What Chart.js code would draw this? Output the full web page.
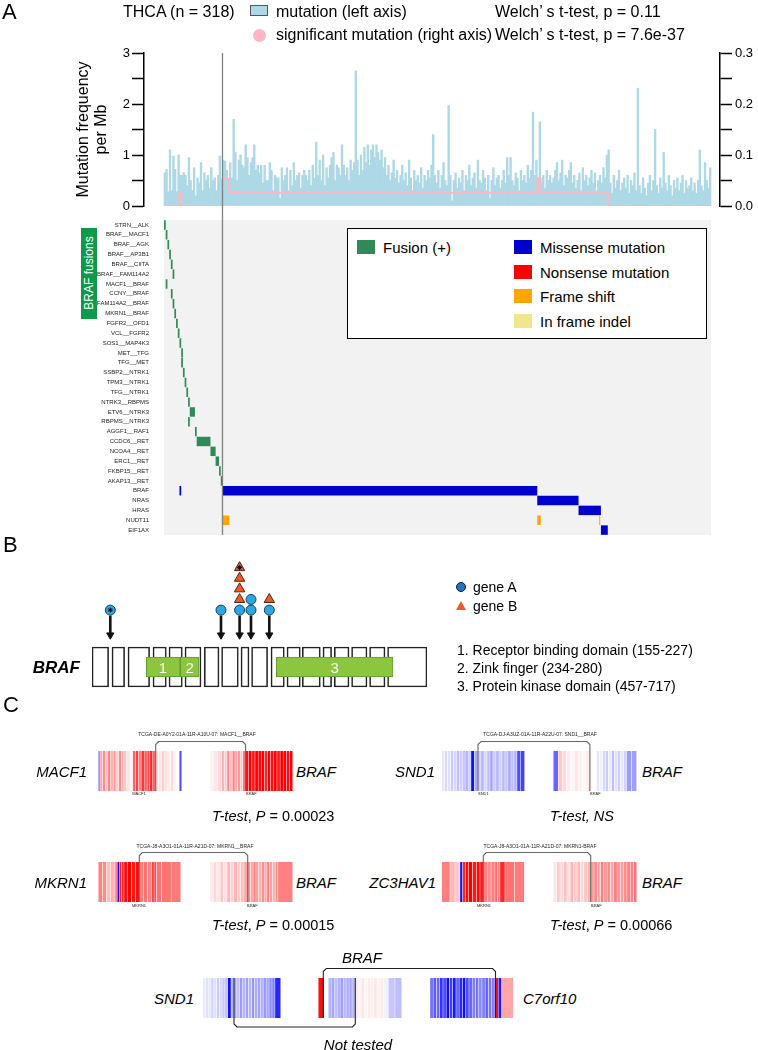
<!DOCTYPE html>
<html>
<head>
<meta charset="utf-8">
<script src="https://cdn.jsdelivr.net/npm/chart.js@4.4.0/dist/chart.umd.min.js"></script>
<style>
  body { margin: 0; width: 758px; height: 1050px; position: relative; overflow: hidden; background: #fff;
         font-family: "Liberation Sans", Arial, sans-serif; color: #000; }
  canvas { position: absolute; }
  .t { position: absolute; white-space: nowrap; line-height: 1; transform: translateY(-50%); }
  .tc { transform: translate(-50%, -50%); }
  .tr { transform: translate(-100%, -50%); }
  .i { font-style: italic; }
  .box { position: absolute; box-sizing: border-box; }
  .tiny { font-size: 5px; color: #222; }
</style>
</head>
<body>
<canvas id="rateChart" width="758" height="220" style="left:0px;top:0px"></canvas>
<canvas id="oncoChart" width="758" height="341" style="left:0px;top:207px"></canvas>
<canvas id="hitChart" width="758" height="100" style="left:0px;top:550px"></canvas>
<canvas id="exonChart" width="758" height="54" style="left:0px;top:640px"></canvas>
<canvas id="strip1L" width="195" height="72" style="left:98px;top:728px"></canvas>
<canvas id="strip1R" width="196" height="72" style="left:441px;top:728px"></canvas>
<canvas id="strip2L" width="195" height="72" style="left:98px;top:840px"></canvas>
<canvas id="strip2R" width="196" height="72" style="left:441px;top:840px"></canvas>
<canvas id="strip3" width="312" height="80" style="left:202px;top:955px"></canvas>

<!-- Panel A header -->
<div class="t" style="left:2px;top:12px;font-size:22px">A</div>
<div class="t" style="left:123px;top:12px;font-size:16px">THCA (n = 318)</div>
<div class="box" style="left:250px;top:5px;width:18px;height:11px;background:#add8e6;border:1px solid #555"></div>
<div class="t" style="left:276px;top:12px;font-size:16px">mutation (left axis)</div>
<div class="t" style="left:495px;top:12px;font-size:16px">Welch’ s t-test, p = 0.11</div>
<div class="box" style="left:252.5px;top:28.5px;width:13px;height:13px;border-radius:50%;background:#ffb6c1"></div>
<div class="t" style="left:276px;top:35px;font-size:16px">significant mutation (right axis)</div>
<div class="t" style="left:495px;top:35px;font-size:16px">Welch’ s t-test, p = 7.6e-37</div>

<div class="box" style="left:81px;top:228px;width:16px;height:91px;background:#0e9a48"></div>
<div class="t tc" style="left:89px;top:273px;font-size:12px;color:#fff;transform:translate(-50%,-50%) rotate(-90deg)">BRAF fusions</div>
<div id="oncoLegend" class="box" style="left:347px;top:228px;width:360px;height:111px;border:1px solid #000;background:#fff"></div>

<!-- Panel B -->
<div class="t" style="left:3px;top:545px;font-size:22px">B</div>
<div class="t tr" style="left:80px;top:667px;font-size:17px;font-weight:bold;font-style:italic">BRAF</div>
<div class="box" style="left:455.7px;top:582.3px;width:10px;height:10px;border-radius:50%;background:#1f74c4;border:1px solid #123"></div>
<div class="t" style="left:473px;top:587px;font-size:14px">gene A</div>
<div class="box" style="left:455.5px;top:601px;width:0;height:0;border-left:5.5px solid transparent;border-right:5.5px solid transparent;border-bottom:9px solid #f15a24"></div>
<div class="t" style="left:473px;top:606px;font-size:14px">gene B</div>
<div id="domainList"></div>
<div id="domainNums"></div>

<!-- Panel C -->
<div class="t" style="left:3px;top:705px;font-size:22px">C</div>

<div class="t tr i" style="left:87px;top:771px;font-size:15px">MACF1</div>
<div class="t i" style="left:296px;top:771px;font-size:15px">BRAF</div>
<div class="t tc tiny" style="left:197px;top:734px">TCGA-DE-A0Y2-01A-11R-A10U-07: MACF1__BRAF</div>
<div class="t tc tiny" style="left:139px;top:794px;font-size:4px">MACF1</div>
<div class="t tiny" style="left:246px;top:794px;font-size:4px">BRAF</div>
<div class="t" style="left:212px;top:816px;font-size:14.5px"><span class="i">T-test</span>, <span class="i">P</span> = 0.00023</div>

<div class="t tr i" style="left:435px;top:771px;font-size:15px">SND1</div>
<div class="t i" style="left:642px;top:771px;font-size:15px">BRAF</div>
<div class="t tc tiny" style="left:540px;top:734px">TCGA-DJ-A3UZ-01A-11R-A22U-07: SND1__BRAF</div>
<div class="t tiny" style="left:478px;top:794px;font-size:4px">SND1</div>
<div class="t tiny" style="left:590px;top:794px;font-size:4px">BRAF</div>
<div class="t" style="left:550px;top:816px;font-size:14.5px"><span class="i">T-test, NS</span></div>

<div class="t tr i" style="left:87px;top:882px;font-size:15px">MKRN1</div>
<div class="t i" style="left:296px;top:882px;font-size:15px">BRAF</div>
<div class="t tc tiny" style="left:195px;top:846px">TCGA-J8-A3O1-01A-11R-A21D-07: MKRN1__BRAF</div>
<div class="t tc tiny" style="left:139px;top:906px;font-size:4px">MKRN1</div>
<div class="t tiny" style="left:247px;top:906px;font-size:4px">BRAF</div>
<div class="t" style="left:212px;top:925px;font-size:14.5px"><span class="i">T-test</span>, <span class="i">P</span> = 0.00015</div>

<div class="t tr i" style="left:436px;top:882px;font-size:15px">ZC3HAV1</div>
<div class="t i" style="left:642px;top:882px;font-size:15px">BRAF</div>
<div class="t tc tiny" style="left:540px;top:846px">TCGA-J8-A3O1-01A-11R-A21D-07: MKRN1-BRAF</div>
<div class="t tiny" style="left:477px;top:906px;font-size:4px">MKRN1</div>
<div class="t tiny" style="left:591px;top:906px;font-size:4px">BRAF</div>
<div class="t" style="left:550px;top:925px;font-size:14.5px"><span class="i">T-test</span>, <span class="i">P</span> = 0.00066</div>

<div class="t i" style="left:342px;top:957px;font-size:15px">BRAF</div>
<div class="t tr i" style="left:194px;top:998px;font-size:15px">SND1</div>
<div class="t i" style="left:523px;top:998px;font-size:15px">C7orf10</div>
<div class="t tc i" style="left:358px;top:1044px;font-size:15px">Not tested</div>

<script>
// ---------- Panel A data ----------
const sampleCount = 318;
const fusionSampleCount = 34;

// mutations per Mb, one value per sample (left axis)
const mutationRate = [
  0.65,0.72,0.28,1.1,0.3,0.98,0.72,0.28,1.0,0.6,
  0.6,0.65,0.6,0.4,0.95,0.5,0.3,0.75,0.2,0.55,
  0.45,0.85,0.3,0.65,0.5,0.6,0.35,0.75,0.5,0.55,
  0.3,0.6,0.98,0.5,
  0.9,0.88,0.7,0.55,0.85,0.55,1.7,1.05,0.5,0.9,
  1.0,0.8,0.75,1.2,0.95,0.6,0.85,0.95,1.2,0.7,
  0.8,0.65,0.8,0.45,0.8,0.5,0.5,0.85,0.7,0.3,
  0.6,0.55,0.55,0.15,0.75,0.5,0.6,0.75,0.3,0.7,
  0.4,0.85,0.5,0.6,0.65,0.35,0.6,0.7,0.6,0.5,
  0.7,0.4,0.8,0.55,1.25,0.6,0.9,0.5,1.0,0.4,
  0.75,0.55,0.8,0.95,1.05,0.5,0.8,0.75,0.6,1.2,
  0.8,0.6,0.75,0.5,0.9,0.7,0.85,2.65,0.9,0.6,
  1.0,0.7,1.15,0.85,1.2,0.8,1.1,1.2,0.95,1.2,
  1.05,0.9,1.1,0.75,0.95,0.6,0.8,0.5,0.65,0.9,
  0.55,0.7,0.45,0.6,0.8,0.5,0.65,0.4,0.9,0.55,
  0.3,0.7,0.5,0.6,0.45,0.75,0.35,0.6,0.5,0.7,
  0.55,0.8,1.4,0.6,0.45,0.7,0.35,0.6,0.85,0.5,
  0.4,1.97,0.6,0.1,0.5,0.65,0.35,0.55,0.45,0.7,
  0.3,0.6,0.5,0.8,0.4,0.55,0.65,0.35,0.9,0.5,
  0.45,0.7,0.55,0.3,0.6,0.15,0.5,0.75,0.4,0.55,
  0.6,0.35,0.5,0.7,0.45,0.95,0.6,0.95,0.5,0.4,
  0.65,0.55,0.3,0.7,0.5,0.6,0.45,0.8,0.55,0.7,
  1.84,0.6,0.9,0.55,1.65,0.45,0.6,0.35,0.7,0.5,
  0.6,0.45,0.55,0.7,0.85,0.5,0.65,0.9,0.4,0.6,
  0.55,0.7,0.85,0.45,0.6,0.35,0.5,0.65,0.3,0.75,
  0.5,0.6,0.4,0.55,0.7,0.45,0.65,0.3,0.5,0.6,
  0.45,0.75,0.55,1.0,1.1,0.45,0.25,0.6,0.35,0.5,
  0.7,0.3,0.45,0.55,0.35,0.6,0.25,0.5,0.4,0.65,
  0.3,2.31,0.4,0.25,0.55,0.35,0.2,0.45,0.6,0.3,
  0.5,1.5,0.4,0.25,0.55,0.35,1.05,0.45,0.3,0.6,
  0.4,0.2,0.5,0.35,0.55,0.3,0.45,0.6,0.25,0.5,
  0.35,0.4,0.55,0.3,0.45,0.25,0.5,1.1,0.4,0.3,
  0.85,0.5,0.35,0.75
];

// significant mutation rate (right axis), as steps: value holds from start until next start
const sigStepStart = [0, 9, 10, 34, 38, 217, 219, 258, 318];
const sigStepValue = [0, 0.027, 0, 0.053, 0.026, 0.054, 0.026, 0, 0];

const fusionRows = ['STRN__ALK','BRAF__MACF1','BRAF__AGK','BRAF__AP3B1','BRAF__CIITA','BRAF__FAM114A2',
  'MACF1__BRAF','CCNY__BRAF','FAM114A2__BRAF','MKRN1__BRAF','FGFR2__OFD1','VCL__FGFR2','SOS1__MAP4K3',
  'MET__TFG','TFG__MET','SSBP2__NTRK1','TPM3__NTRK1','TFG__NTRK1','NTRK3__RBPMS','ETV6__NTRK3',
  'RBPMS__NTRK3','AGGF1__RAF1','CCDC6__RET','NCOA4__RET','ERC1__RET','FKBP15__RET','AKAP13__RET'];
const geneRows = ['BRAF','NRAS','HRAS','NUDT11','EIF1AX'];

// [row, first sample, number of samples]
const fusionEvents = [
  ['STRN__ALK',0,1],['BRAF__MACF1',1,1],['BRAF__AGK',2,1],['BRAF__AP3B1',3,1],['BRAF__CIITA',4,1],
  ['BRAF__FAM114A2',5,1],['MACF1__BRAF',1,1],['CCNY__BRAF',4,1],['FAM114A2__BRAF',5,1],['MKRN1__BRAF',6,1],
  ['FGFR2__OFD1',7,1],['VCL__FGFR2',8,1],['SOS1__MAP4K3',9,1],['MET__TFG',10,1],['TFG__MET',10,1],
  ['SSBP2__NTRK1',11,1],['TPM3__NTRK1',12,1],['TFG__NTRK1',13,1],['NTRK3__RBPMS',14,1],['ETV6__NTRK3',15,3],
  ['RBPMS__NTRK3',14,1],['AGGF1__RAF1',18,1],['CCDC6__RET',19,8],['NCOA4__RET',27,3],['ERC1__RET',30,2],
  ['FKBP15__RET',32,1],['AKAP13__RET',33,1]
];
// [row, first sample, number of samples, type]
const mutationEvents = [
  ['BRAF',9,1,'Missense mutation'],['BRAF',34,183,'Missense mutation'],['NRAS',217,24,'Missense mutation'],
  ['HRAS',241,13,'Missense mutation'],['EIF1AX',254,4,'Missense mutation'],
  ['NUDT11',34,4,'Frame shift'],['NUDT11',217,2,'Frame shift'],['NUDT11',253,0.6,'Frame shift']
];
const eventTypes = ['Fusion (+)','Missense mutation','Nonsense mutation','Frame shift','In frame indel'];
const eventColors = ['#2e8b57','#0000cd','#ff0000','#ffa500','#f0e68c'];

// ---------- Panel B data (exon diagram units) ----------
const exonStart = [0,20,36,61,77,93,112.3,129.6,149,159.6,179,195,210.3,231,242.3,259.6,277.6,295.6];
const exonEnd   = [16.6,32.6,57.6,74.3,90.3,109,127,146.3,157,175.6,192.3,208.3,228.3,239.6,257,275,293,335];
const domainStart = [54.3,88.3,184.3];
const domainEnd   = [87.6,107,301];
const domainNames = ['Receptor binding domain (155-227)','Zink finger (234-280)','Protein kinase domain (457-717)'];
const hitPos    = [18.3,129,147.6,159,177.3];
const geneAHits = [1,1,1,2,1];
const geneBHits = [0,0,4,0,1];
const starMarks = [[0,0],[2,4]];   // [hit index, stack level]

// ---------- Panel C data (exon widths and expression, -1 blue .. 1 red) ----------
const macf1Widths = [1.7,2.6,2.7,2.6,2.8,2.6,2.7,2.6,2.7,2.7,2.7,4,2,2.9,2.9,2.8,2.9,2.9,2.8,2.9,2.9,3,3,3,3,3,3,3,2.6,2.4];
const macf1Expr = [-0.55,0.35,0.45,0.25,0.5,0.3,0.4,0.2,0.45,0.3,0.25,0.1,0.03,0.6,0.75,0.5,0.8,0.65,0.7,0.85,0.6,0.15,0.1,0.2,0.12,0.08,0.15,0.05,0,-0.7];
const brafAWidths = [3.9,3.9,3.9,2.7,2.6,2.7,2.6,2.7,2.6,2.7,2.6,2.7,3.14,3.14,3.14,3.14,3.14,3.14,3.14,3.14,3.14,3.14,3.14,3.14,3.14,3.14,3.14];
const brafAExpr = [0.05,0.1,0.15,0.3,0.2,0.45,0.25,0.5,0.35,0.4,0.2,0.55,0.95,1,0.9,1,0.95,1,0.85,1,0.95,1,0.9,1,1,0.95,1];
const snd1AWidths = [2.9,2.9,3,2.9,3,2.9,3,2.9,3,2.8,3.4,3.6,3,3,3,3,3,3,3,3,3,3,3,3,3,3.8,3.8];
const snd1AExpr = [-0.1,-0.15,-0.12,-0.2,-0.15,-0.25,-0.18,-0.22,-0.3,-0.2,-0.95,-0.35,-0.2,-0.3,-0.15,-0.25,-0.35,-0.2,-0.3,-0.18,-0.28,-0.22,-0.35,-0.25,-0.3,-0.7,-0.75];
const brafBWidths = [5,4.2,4.1,3.9,3.9,3.9,3.9,3.9,3.8,3.3,3.3,3,3,3,3,3,3,3,3,3,3,5,5.1];
const brafBExpr = [-0.6,0.22,0.15,0.08,0.04,0.1,0.06,0.03,0.08,0.02,0,-0.1,-0.05,-0.15,-0.2,-0.08,-0.25,-0.12,-0.2,-0.1,-0.18,-0.4,-0.38];
const mkrn1Widths = [4.2,4.1,4.2,4.2,2.3,2,2.4,2.3,3.8,3.8,3.9,3.8,4.1,4.1,4.1,2.5,2.5,5,9.5,9.6];
const mkrn1Expr = [0.5,0.45,0.25,0.3,0.5,-0.95,0.9,0.85,0.95,1,0.9,0.95,0.5,0.55,0.5,0.75,0.7,0.55,0.55,0.52];
const brafCWidths = [3.4,3.4,3.4,3.4,3.4,3.4,3.4,3.4,3.4,3.4,3.7,2.75,2.75,2.75,2.75,2.75,2.75,2.75,2.75,2.75,2.75,2.75,14.75];
const brafCExpr = [0.08,0.15,0.1,0.22,0.12,0.28,0.18,0.3,0.2,0.25,0.35,0.45,0.35,0.5,0.4,0.3,0.45,0.35,0.5,0.38,0.3,0.42,0.5];
const zc3hav1Widths = [8.3,5,5,2.7,2.7,3,4.1,4.2,3.3,3.3,3.9,3.9,3.9,2.5,2.5,5,9.6,9.7];
const zc3hav1Expr = [0.5,0.28,0.22,-0.95,0.85,0.95,1,0.9,0.95,0.9,0.5,0.45,0.5,0.6,0.5,0.85,0.55,0.52];
const brafDWidths = [3.4,3.4,3.4,3.4,3.4,3.4,3.4,3.4,3.4,3.4,3.4,3.3,3.3,3.3,3.3,3.3,3.3,3.3,3.3,3.3,3.3,3.3,3.3,3.3,3.1];
const brafDExpr = [0.1,0.2,0.15,0.25,0.12,0.3,0.2,0.28,0.15,0.22,0.3,0.4,0.45,0.35,0.5,0.4,0.45,0.35,0.5,0.42,0.38,0.45,0.5,0.48,0.55];
const snd1BWidths = [2.78,2.78,2.78,2.78,2.78,2.78,2.78,2.78,2.78,3.3,2.93,2.93,2.93,2.93,2.93,2.93,2.93,2.93,2.93,2.93,2.93,2.93,2.93,2.93,2.93,5.7];
const snd1BExpr = [-0.08,-0.12,-0.1,-0.18,-0.12,-0.2,-0.15,-0.22,-0.25,-0.95,-0.3,-0.35,-0.25,-0.4,-0.3,-0.38,-0.28,-0.42,-0.32,-0.36,-0.3,-0.4,-0.35,-0.45,-0.5,-0.85];
const brafEWidths = [5.7,4.3,2.97,2.97,2.97,2.97,2.97,2.97,2.97,2.97,2.97,3.14,3.14,3.14,3.14,3.14,3.14,3.14,3.14,3.14,5,6.7,6.7];
const brafEExpr = [0.95,0,-0.3,-0.35,-0.25,-0.3,-0.38,-0.28,-0.32,-0.35,-0.3,0.08,0.05,0.1,0.04,0.08,0.06,0.1,0.05,0.07,-0.05,-0.22,-0.25];
const c7orf10Widths = [3.25,3.25,3.25,3.25,3.25,3.25,3.25,3.25,3.25,3.25,3.25,3.25,3.25,3.25,3.25,3.25,3.25,3.25,3.25,3.25,3.3,3.4,11.6];
const c7orf10Expr = [-0.55,-0.65,-0.6,-0.8,-0.7,-0.95,-0.75,-0.9,-0.6,-0.85,-0.95,-0.7,-0.6,-0.5,-0.55,-0.45,-0.5,-0.6,-0.55,-0.5,0.95,-0.9,0.35];

// ---------- common ----------
Chart.defaults.font.family = '"Liberation Sans", Arial, sans-serif';
Chart.defaults.color = '#000';
Chart.defaults.animation = false;
Chart.defaults.events = [];
Chart.defaults.plugins.legend.display = false;
Chart.defaults.plugins.tooltip.enabled = false;

// vertical line between fusion samples and the rest
function splitLine(toCanvasBottom) {
  return {
    id: 'splitLine',
    afterDatasetsDraw(chart) {
      const { ctx, chartArea, scales } = chart;
      const x = scales.x.getPixelForValue(fusionSampleCount);
      ctx.save();
      ctx.strokeStyle = '#7f7f7f';
      ctx.lineWidth = 1.3;
      ctx.beginPath();
      ctx.moveTo(x, chartArea.top);
      ctx.lineTo(x, toCanvasBottom ? chart.height : chartArea.bottom);
      ctx.stroke();
      ctx.restore();
    }
  };
}

// ---------- Panel A: mutation frequency ----------
const sigPoints = sigStepStart.map((s, i) => ({ x: s, y: sigStepValue[i] }));
const pxPerSample = 547 / sampleCount;

new Chart(document.getElementById('rateChart'), {
  type: 'bar',
  data: {
    datasets: [
      { type: 'line', data: sigPoints, yAxisID: 'y1', stepped: true, borderColor: '#ffb6c1',
        borderWidth: 2, pointRadius: 0, order: 0 },
      { type: 'bar', data: mutationRate.map((v, i) => ({ x: i + 0.5, y: v })), yAxisID: 'y',
        backgroundColor: '#add8e6', barPercentage: 1, categoryPercentage: 1, order: 1 }
    ]
  },
  options: {
    responsive: false,
    layout: { padding: { top: 53, bottom: 14, left: 0, right: 0 } },
    scales: {
      x: { type: 'linear', display: false, offset: false,
           min: -20 / pxPerSample, max: sampleCount + 9 / pxPerSample },
      y: {
        position: 'left', min: 0, max: 3,
        afterFit(s) { s.width = 144; },
        ticks: { stepSize: 0.5, autoSkip: false, padding: 2, font: { size: 13 },
                 callback: v => Number.isInteger(v) ? v : '' },
        grid: { drawOnChartArea: false, tickLength: 12, tickColor: '#000', tickWidth: 1.5 },
        border: { color: '#000', width: 1.5 },
        title: { display: true, text: ['Mutation frequency', 'per Mb'], color: '#000',
                 font: { size: 16, lineHeight: 1.1 }, padding: { top: 75, bottom: 0 } }
      },
      y1: {
        position: 'right', min: 0, max: 0.3,
        afterFit(s) { s.width = 38; },
        ticks: { stepSize: 0.05, autoSkip: false, padding: 3, font: { size: 13 },
                 callback: v => Math.abs(v * 10 - Math.round(v * 10)) < 1e-6 ? v.toFixed(1) : '' },
        grid: { drawOnChartArea: false, tickLength: 12, tickColor: '#000', tickWidth: 1.5 },
        border: { color: '#000', width: 1.5 }
      }
    }
  },
  plugins: [splitLine(true)]
});

// ---------- Panel A: fusion / mutation matrix ----------
const oncoRows = fusionRows.concat(geneRows);
const oncoBars = [], oncoColors = [];
fusionEvents.forEach(e => {
  oncoBars.push({ x: [e[1], e[1] + e[2]], y: e[0] });
  oncoColors.push(eventColors[0]);
});
mutationEvents.forEach(e => {
  oncoBars.push({ x: [e[1], e[1] + e[2]], y: e[0] });
  oncoColors.push(eventColors[eventTypes.indexOf(e[3])]);
});

const panelBackground = {
  id: 'panelBackground',
  beforeDatasetsDraw(chart) {
    const { ctx, chartArea } = chart;
    ctx.save();
    ctx.fillStyle = '#f2f2f2';
    ctx.fillRect(chartArea.left, chartArea.top, chartArea.width, chartArea.height);
    ctx.restore();
  }
};

new Chart(document.getElementById('oncoChart'), {
  type: 'bar',
  data: {
    labels: oncoRows,
    datasets: [{ data: oncoBars, backgroundColor: oncoColors, borderWidth: 0,
                 barPercentage: 0.96, categoryPercentage: 1 }]
  },
  options: {
    indexAxis: 'y',
    responsive: false,
    layout: { padding: { top: 13, bottom: 13, left: 0, right: 47 } },
    scales: {
      x: { type: 'linear', min: 0, max: sampleCount, display: false, offset: false },
      y: {
        afterFit(s) { s.width = 164; },
        ticks: { autoSkip: false, padding: 7, color: '#222', font: { size: 6 } },
        grid: { display: false },
        border: { display: false }
      }
    }
  },
  plugins: [panelBackground, splitLine(false)]
});

// legend of event types
const legendBox = document.getElementById('oncoLegend');
eventTypes.forEach((name, i) => {
  const left = i === 0 ? 9 : 166;
  const cy = 18 + (i === 0 ? 0 : (i - 1) * 24.7);
  const sw = document.createElement('div');
  sw.className = 'box';
  sw.style.cssText = `left:${left}px;top:${cy - 7}px;width:18px;height:14px;background:${eventColors[i]}`;
  legendBox.appendChild(sw);
  const tx = document.createElement('div');
  tx.className = 't';
  tx.style.cssText = `left:${left + 26}px;top:${cy}px;font-size:15px`;
  tx.textContent = name;
  legendBox.appendChild(tx);
});

// ---------- Panel B: BRAF exon diagram ----------
const exonChart = new Chart(document.getElementById('exonChart'), {
  type: 'bar',
  data: {
    labels: ['BRAF'],
    datasets: [
      { data: domainStart.map((s, i) => ({ x: [s, domainEnd[i]], y: 'BRAF' })),
        backgroundColor: '#8cc63f', borderColor: '#5e9e2c', borderWidth: 1, borderSkipped: false,
        barThickness: 20, grouped: false, order: 0 },
      { data: exonStart.map((s, i) => ({ x: [s, exonEnd[i]], y: 'BRAF' })),
        backgroundColor: '#fff', borderColor: '#222', borderWidth: 1.6, borderSkipped: false,
        barThickness: 40, grouped: false, order: 1 }
    ]
  },
  options: {
    indexAxis: 'y',
    responsive: false,
    layout: { padding: { top: 0, bottom: 0, left: 92, right: 331 } },
    scales: {
      x: { type: 'linear', min: 0, max: 335, display: false, offset: false },
      y: { display: false }
    }
  }
});

// domain numbers inside the green boxes
const numBox = document.getElementById('domainNums');
domainStart.forEach((s, i) => {
  const d = document.createElement('div');
  d.className = 't tc';
  d.style.cssText = `left:${exonChart.scales.x.getPixelForValue((s + domainEnd[i]) / 2)}px;top:667px;font-size:15px;color:#fff`;
  d.textContent = String(i + 1);
  numBox.appendChild(d);
});
const listBox = document.getElementById('domainList');
domainNames.forEach((name, i) => {
  const d = document.createElement('div');
  d.className = 't';
  d.style.cssText = `left:457px;top:${650 + i * 18}px;font-size:14px`;
  d.textContent = `${i + 1}. ${name}`;
  listBox.appendChild(d);
});

// lollipops
const geneAPoints = [], geneBPoints = [];
hitPos.forEach((x, i) => {
  for (let k = 0; k < geneAHits[i]; k++) geneAPoints.push({ x, y: k });
  for (let k = 0; k < geneBHits[i]; k++) geneBPoints.push({ x, y: geneAHits[i] + k });
});
const arrowSets = hitPos.map(x => ({
  data: [{ x, y: -0.5 }, { x, y: -2.25 }], showLine: true, borderColor: '#111',
  borderWidth: 2.6, pointRadius: 0, order: 4
}));

new Chart(document.getElementById('hitChart'), {
  type: 'scatter',
  data: {
    datasets: arrowSets.concat([
      { data: hitPos.map(x => ({ x, y: -2.35 })), pointStyle: 'triangle', rotation: 180, radius: 4.2,
        backgroundColor: '#111', borderColor: '#111', borderWidth: 1, order: 3 },
      { data: geneAPoints, pointStyle: 'circle', radius: 5, backgroundColor: '#29a9e1',
        borderColor: '#1c3d63', borderWidth: 1, order: 2 },
      { data: geneBPoints, pointStyle: 'triangle', radius: 6, backgroundColor: '#f15a24',
        borderColor: '#4a2a1a', borderWidth: 1, order: 1 },
      { data: starMarks.map(m => ({ x: hitPos[m[0]], y: m[1] })), pointStyle: 'star', radius: 2.4,
        borderColor: '#000', borderWidth: 1, order: 0 }
    ])
  },
  options: {
    responsive: false,
    layout: { padding: { top: 0, bottom: 0, left: 92, right: 331 } },
    scales: {
      x: { type: 'linear', min: 0, max: 335, display: false },
      y: { type: 'linear', min: -3.1, max: 5.0, display: false }
    }
  }
});

// ---------- Panel C: expression strips ----------
function exprColor(v) {
  const c = Math.round(255 * (1 - Math.min(1, Math.abs(v))));
  return v >= 0 ? `rgb(255,${c},${c})` : `rgb(${c},${c},255)`;
}

function stripChart(id, strips, brackets, padTop, padBottom, bracketColor) {
  const canvas = document.getElementById(id);
  const bars = [], colors = [];
  strips.forEach(s => {
    let x = s.offset;
    s.widths.forEach((w, i) => {
      bars.push({ x: [x, x + w], y: 'expr' });
      colors.push(exprColor(s.expr[i]));
      x += w;
    });
  });
  const bracketPlugin = {
    id: 'brackets',
    afterDatasetsDraw(chart) {
      const { ctx, chartArea, scales } = chart;
      ctx.save();
      ctx.strokeStyle = bracketColor;
      ctx.lineWidth = 1.1;
      brackets.forEach(b => {
        const xa = scales.x.getPixelForValue(strips[b.from[0]].offset + b.from[1]);
        const xb = scales.x.getPixelForValue(strips[b.to[0]].offset + b.to[1]);
        const c = 3;
        ctx.beginPath();
        if (b.side === 'top') {
          const y = chartArea.top - 9.5;
          ctx.moveTo(xa, chartArea.bottom); ctx.lineTo(xa, y + c); ctx.lineTo(xa + c, y);
          ctx.lineTo(xb - c, y); ctx.lineTo(xb, y + c); ctx.lineTo(xb, chartArea.bottom);
        } else {
          const y = chartArea.bottom + 9;
          ctx.moveTo(xa, chartArea.top); ctx.lineTo(xa, y - c); ctx.lineTo(xa + c, y);
          ctx.lineTo(xb - c, y); ctx.lineTo(xb, y - c); ctx.lineTo(xb, chartArea.top);
        }
        ctx.stroke();
      });
      ctx.restore();
    }
  };
  return new Chart(canvas, {
    type: 'bar',
    data: {
      labels: ['expr'],
      datasets: [{ data: bars, backgroundColor: colors, borderColor: '#fff',
                   borderWidth: { left: 0.5, right: 0.5, top: 0, bottom: 0 }, borderSkipped: false,
                   barThickness: 40, grouped: false }]
    },
    options: {
      indexAxis: 'y',
      responsive: false,
      layout: { padding: { top: padTop, bottom: padBottom, left: 0, right: 0 } },
      scales: {
        x: { type: 'linear', min: 0, max: canvas.width, display: false, offset: false },
        y: { display: false }
      }
    },
    plugins: [bracketPlugin]
  });
}

stripChart('strip1L',
  [{ offset: 0.3, widths: macf1Widths, expr: macf1Expr }, { offset: 112, widths: brafAWidths, expr: brafAExpr }],
  [{ side: 'top', from: [0, 57.4], to: [1, 35.6] }], 23, 9, '#666');
stripChart('strip1R',
  [{ offset: 0.7, widths: snd1AWidths, expr: snd1AExpr }, { offset: 112.3, widths: brafBWidths, expr: brafBExpr }],
  [{ side: 'top', from: [0, 36.3], to: [1, 36.6] }], 23, 9, '#666');
stripChart('strip2L',
  [{ offset: 0.3, widths: mkrn1Widths, expr: mkrn1Expr }, { offset: 112, widths: brafCWidths, expr: brafCExpr }],
  [{ side: 'top', from: [0, 41], to: [1, 37.7] }], 22, 10, '#666');
stripChart('strip2R',
  [{ offset: 0.7, widths: zc3hav1Widths, expr: zc3hav1Expr }, { offset: 112.3, widths: brafDWidths, expr: brafDExpr }],
  [{ side: 'top', from: [0, 41.6], to: [1, 37.4] }], 22, 10, '#666');
stripChart('strip3',
  [{ offset: 0.7, widths: snd1BWidths, expr: snd1BExpr },
   { offset: 116.3, widths: brafEWidths, expr: brafEExpr },
   { offset: 228, widths: c7orf10Widths, expr: c7orf10Expr }],
  [{ side: 'top', from: [1, 5], to: [2, 65.5] }, { side: 'bottom', from: [0, 31.3], to: [1, 37] }],
  23, 17, '#222');
</script>
</body>
</html>
